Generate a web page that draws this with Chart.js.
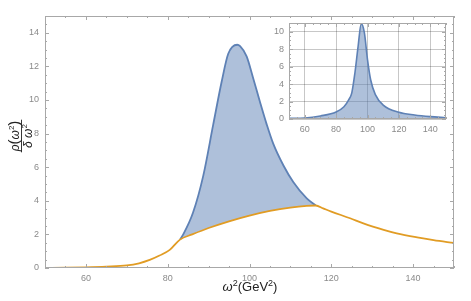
<!DOCTYPE html>
<html>
<head>
<meta charset="utf-8">
<script src="https://cdn.jsdelivr.net/npm/chart.js@4"></script>
<style>
  body { margin: 0; background: #fff; }
  #wrap { position: relative; width: 471px; height: 301px; }
  #mainChart { position: absolute; left: 0; top: 0; }
  #insetChart { position: absolute; left: 260px; top: 10px; }
</style>
</head>
<body>
<div id="wrap">
  <canvas id="mainChart" width="471" height="301"></canvas>
  <canvas id="insetChart" width="200" height="130"></canvas>
</div>
<script>
// main plot: background (orange) and peak (blue), omega^2 in GeV^2
let bgX = [50, 55, 60, 65, 70, 73, 75.6, 78, 80.5, 83, 86, 90, 95, 100, 105, 110, 114, 116.2, 118, 120, 124.6, 128, 132.8, 136, 141, 145, 150]
let bgY = [0.01, 0.02, 0.04, 0.08, 0.15, 0.28, 0.48, 0.74, 1.08, 1.69, 2.0, 2.38, 2.78, 3.12, 3.40, 3.60, 3.70, 3.72, 3.55, 3.36, 2.96, 2.64, 2.27, 2.06, 1.82, 1.66, 1.49]
let peakX = [83, 83.8, 86.2, 88.7, 91.1, 93.2, 94.8, 97.0, 97.7, 99.3, 100.9, 102.6, 104.2, 105.8, 108.3, 110.7, 114.0, 116.2]
let peakY = [1.69, 2.0, 3.3, 5.5, 8.5, 11.1, 12.75, 13.29, 13.2, 12.6, 11.3, 9.85, 8.55, 7.4, 6.1, 5.12, 4.14, 3.72]
let mainXTicks = [60, 80, 100, 120, 140]
let mainYTicks = [0, 2, 4, 6, 8, 10, 12, 14]

// inset: full peak
let insetX = [50, 60, 70, 80, 85, 88, 90, 92, 94, 96, 98, 100, 102, 105, 110, 120, 130, 140, 150]
let insetY = [0.08, 0.12, 0.35, 0.8, 1.4, 2.2, 3.0, 5.3, 8.3, 10.9, 9.9, 6.8, 4.5, 2.8, 1.6, 0.77, 0.46, 0.27, 0.15]
let insetXTicks = [60, 80, 100, 120, 140]
let insetYTicks = [0, 2, 4, 6, 8, 10]

const blue = '#5e81b5'
const orange = '#e19c24'
const fillBlue = 'rgba(94,129,181,0.5)'
const frameCol = '#a8a8a8'
const labelCol = '#8a8a8a'
const FONT = '"Liberation Sans", Arial, sans-serif'

function pts(xs, ys) { return xs.map((x, i) => ({ x: x, y: ys[i] })) }
function range(a, b, s) { let r = []; for (let v = a; v <= b + 1e-9; v += s) r.push(+v.toFixed(3)); return r }

// frame with inward ticks, Mathematica style
const frameTicks = {
  id: 'frameTicks',
  afterDraw(chart, args, o) {
    const { ctx, chartArea: a } = chart
    const x = chart.scales.x, y = chart.scales.y
    ctx.save()
    ctx.strokeStyle = frameCol
    ctx.lineWidth = 1
    ctx.strokeRect(Math.round(a.left) + 0.5, Math.round(a.top) + 0.5, Math.round(a.right - a.left) - 1, Math.round(a.bottom - a.top) - 1)
    ctx.beginPath()
    const tx = (v, L) => {
      const p = Math.round(x.getPixelForValue(v)) + 0.5
      ctx.moveTo(p, a.bottom); ctx.lineTo(p, a.bottom - L)
      ctx.moveTo(p, a.top); ctx.lineTo(p, a.top + L)
    }
    const ty = (v, L) => {
      const p = Math.round(y.getPixelForValue(v)) + 0.5
      ctx.moveTo(a.left, p); ctx.lineTo(a.left + L, p)
      ctx.moveTo(a.right, p); ctx.lineTo(a.right - L, p)
    }
    o.xMinor.forEach(v => tx(v, 2)); o.xMajor.forEach(v => tx(v, 4))
    o.yMinor.forEach(v => ty(v, 2)); o.yMajor.forEach(v => ty(v, 4))
    ctx.stroke()
    ctx.restore()
  }
}

// axis titles for the main plot
const axisTitles = {
  id: 'axisTitles',
  afterDraw(chart) {
    const ctx = chart.ctx
    ctx.save()
    ctx.fillStyle = '#222'
    ctx.textBaseline = 'alphabetic'
    // x title: omega^2 (GeV^2)
    let parts = [['ω', 'italic 13px ' + FONT, 0], ['2', '9px ' + FONT, -5], ['(GeV', '13px ' + FONT, 0], ['2', '9px ' + FONT, -5], [')', '13px ' + FONT, 0]]
    let w = 0
    parts.forEach(p => { ctx.font = p[1]; w += ctx.measureText(p[0]).width })
    let cx = 250 - w / 2
    parts.forEach(p => { ctx.font = p[1]; ctx.fillText(p[0], cx, 291 + p[2]); cx += ctx.measureText(p[0]).width })

    // y title: rho(omega^2) / delta omega^2, rotated
    ctx.translate(22, 136)
    ctx.rotate(-Math.PI / 2)
    let num = [['ρ', 'italic 12px ' + FONT, 0], ['(', '15px ' + FONT, 0], ['ω', 'italic 12px ' + FONT, 0], ['2', '8px ' + FONT, -5], [')', '15px ' + FONT, 0]]
    let den = [['δ', 'italic 12px ' + FONT, 0], [' ω', 'italic 12px ' + FONT, 0], ['2', '8px ' + FONT, -5]]
    const drawRow = (row, base) => {
      let ww = 0
      row.forEach(p => { ctx.font = p[1]; ww += ctx.measureText(p[0]).width })
      let px = -ww / 2
      row.forEach(p => { ctx.font = p[1]; ctx.fillText(p[0], px, base + p[2]); px += ctx.measureText(p[0]).width })
      return ww
    }
    let nw = drawRow(num, -3)
    drawRow(den, 10)
    ctx.fillRect(-nw / 2 - 1, -1, nw + 2, 0.9)
    ctx.restore()
  }
}

function fixTicks(list) { return function (scale) { scale.ticks = list.map(v => ({ value: v })) } }

new Chart(document.getElementById('mainChart'), {
  type: 'line',
  data: {
    datasets: [
      { label: 'background', data: pts(bgX, bgY), borderColor: orange, borderWidth: 1.8, pointRadius: 0, fill: false, cubicInterpolationMode: 'monotone' },
      { label: 'peak', data: pts(peakX, peakY), borderColor: blue, borderWidth: 1.8, pointRadius: 0, backgroundColor: fillBlue, fill: 0, cubicInterpolationMode: 'monotone' }
    ]
  },
  options: {
    responsive: false, animation: false, devicePixelRatio: 1,
    layout: { padding: { top: 16, right: 17, left: 0, bottom: 0 } },
    plugins: {
      legend: { display: false }, tooltip: { enabled: false },
      frameTicks: { xMajor: mainXTicks, xMinor: range(50, 150, 5), yMajor: mainYTicks, yMinor: range(0, 15, 0.5) }
    },
    scales: {
      x: {
        type: 'linear', min: 50, max: 150,
        afterBuildTicks: fixTicks(mainXTicks),
        afterFit: s => { s.height = 33 },
        grid: { display: false, drawTicks: false }, border: { display: false },
        ticks: { color: labelCol, font: { size: 9, family: FONT }, padding: 5, maxRotation: 0 }
      },
      y: {
        type: 'linear', min: 0, max: 15,
        afterBuildTicks: fixTicks(mainYTicks),
        afterFit: s => { s.width = 45 },
        grid: { display: false, drawTicks: false }, border: { display: false },
        ticks: { color: labelCol, font: { size: 9, family: FONT }, padding: 6 }
      }
    }
  },
  plugins: [frameTicks, axisTitles]
})

new Chart(document.getElementById('insetChart'), {
  type: 'line',
  data: {
    datasets: [
      { label: 'peak', data: pts(insetX, insetY), borderColor: blue, borderWidth: 1.6, pointRadius: 0, backgroundColor: fillBlue, fill: 'origin', cubicInterpolationMode: 'monotone' }
    ]
  },
  options: {
    responsive: false, animation: false, devicePixelRatio: 1,
    layout: { padding: { top: 13, right: 14, left: 0, bottom: 0 } },
    plugins: {
      legend: { display: false }, tooltip: { enabled: false },
      frameTicks: { xMajor: insetXTicks, xMinor: range(50, 150, 5), yMajor: insetYTicks, yMinor: range(0, 11, 0.5) }
    },
    scales: {
      x: {
        type: 'linear', min: 50, max: 150,
        afterBuildTicks: fixTicks(insetXTicks),
        afterFit: s => { s.height = 21 },
        grid: { color: 'rgba(0,0,0,0.22)', drawTicks: false }, border: { display: false },
        ticks: { color: labelCol, font: { size: 9, family: FONT }, padding: 5, maxRotation: 0 }
      },
      y: {
        type: 'linear', min: 0, max: 11,
        afterBuildTicks: fixTicks(insetYTicks),
        afterFit: s => { s.width = 29 },
        grid: { color: 'rgba(0,0,0,0.22)', drawTicks: false }, border: { display: false },
        ticks: { color: labelCol, font: { size: 9, family: FONT }, padding: 5 }
      }
    }
  },
  plugins: [frameTicks]
})
</script>
</body>
</html>
